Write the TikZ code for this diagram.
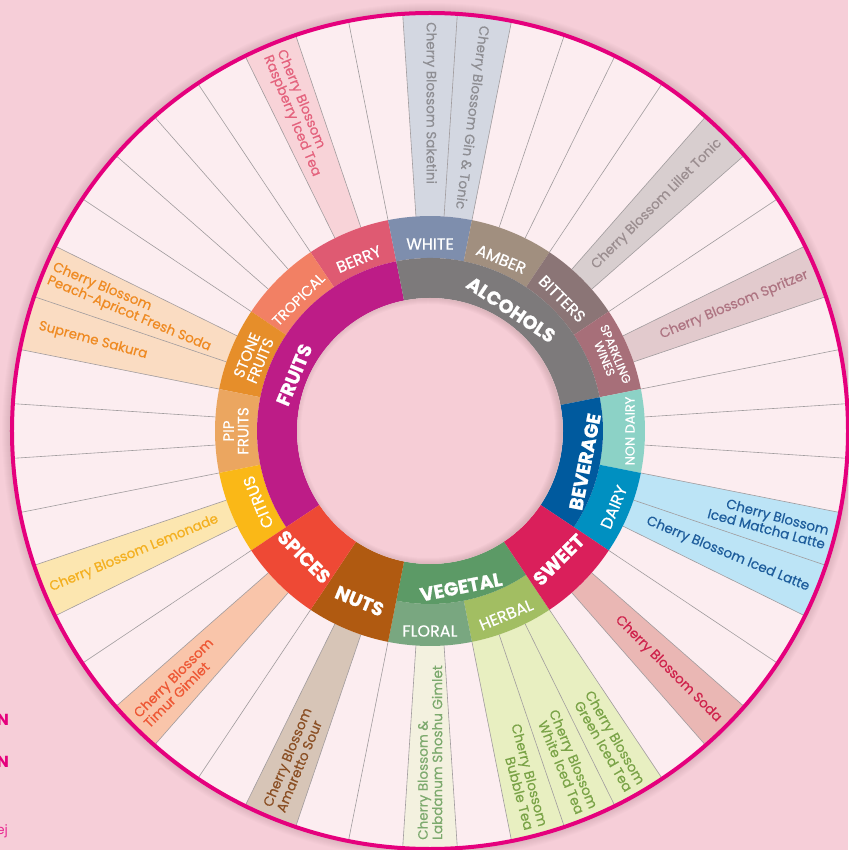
\documentclass[tikz,border=0pt]{standalone}
\usepackage{fontspec}
\setmainfont{Poppins}
\newfontfamily\drinkfont{Poppins}[FakeBold=0.5]
\newfontfamily\subfont{Poppins}[FakeBold=0.6]
\newfontfamily\heavyfont{Poppins}[FakeBold=0.9]
\usepackage{xcolor}
\definecolor{PageBg}{HTML}{F6CED8}
\definecolor{RingBg}{HTML}{FCEDF0}
\definecolor{HoleCol}{HTML}{F6CDD6}
\definecolor{RimCol}{HTML}{E5007D}
\definecolor{SpokeCol}{HTML}{A19C9E}
% main families
\definecolor{FruitsCol}{HTML}{BD1C87}
\definecolor{AlcoholsCol}{HTML}{7D7A7B}
\definecolor{BeverageCol}{HTML}{005A9E}
\definecolor{SweetCol}{HTML}{DA1F5B}
\definecolor{VegetalCol}{HTML}{5C9A66}
\definecolor{NutsCol}{HTML}{B05A11}
\definecolor{SpicesCol}{HTML}{EE4935}
% sub families
\definecolor{BerryCol}{HTML}{DF5A72}
\definecolor{TropicalCol}{HTML}{F28064}
\definecolor{StoneCol}{HTML}{E68E2A}
\definecolor{PipCol}{HTML}{EBA660}
\definecolor{CitrusCol}{HTML}{FAB817}
\definecolor{WhiteCol}{HTML}{7E8EAD}
\definecolor{AmberCol}{HTML}{A18F7F}
\definecolor{BittersCol}{HTML}{8B7576}
\definecolor{SparklingCol}{HTML}{A76F79}
\definecolor{NonDairyCol}{HTML}{8CD2C6}
\definecolor{DairyCol}{HTML}{0090C1}
\definecolor{FloralCol}{HTML}{79A780}
\definecolor{HerbalCol}{HTML}{A2BE62}
% drinks
\definecolor{RaspBg}{HTML}{F8D3D8}\definecolor{RaspTx}{HTML}{E4627D}
\definecolor{GinBg}{HTML}{D3D7E1}\definecolor{GinTx}{HTML}{8E8E93}
\definecolor{LilletBg}{HTML}{D8CECF}\definecolor{LilletTx}{HTML}{9B8E90}
\definecolor{SpritzBg}{HTML}{E2CACD}\definecolor{SpritzTx}{HTML}{AE7482}
\definecolor{LatteBg}{HTML}{BCE4F6}\definecolor{LatteTx}{HTML}{1E5D9C}
\definecolor{SodaBg}{HTML}{EAB7B4}\definecolor{SodaTx}{HTML}{CF234C}
\definecolor{TeaBg}{HTML}{E8EFC1}\definecolor{TeaTx}{HTML}{7AA347}
\definecolor{ShoshuBg}{HTML}{F3F1DF}\definecolor{ShoshuTx}{HTML}{7DAA6E}
\definecolor{AmarBg}{HTML}{D7C5B7}\definecolor{AmarTx}{HTML}{8B4F24}
\definecolor{TimurBg}{HTML}{F9C5AA}\definecolor{TimurTx}{HTML}{EE5734}
\definecolor{LemonBg}{HTML}{FCE6B0}\definecolor{LemonTx}{HTML}{F4B020}
\definecolor{PeachBg}{HTML}{FADCC2}\definecolor{PeachTx}{HTML}{EF8A22}
\tikzstyle{Spoke}=[draw=SpokeCol,line width=0.6pt]
\tikzstyle{Rim}=[draw=RimCol,line width=4pt]
\tikzstyle{MainLabel}=[text=white,inner sep=0pt,font=\fontsize{19}{19}\heavyfont\bfseries]
\tikzstyle{SubLabel}=[text=white,inner sep=0pt,align=center,font=\fontsize{16}{15}\subfont]
\tikzstyle{SubSmall}=[text=white,inner sep=0pt,align=center,font=\fontsize{12}{12}\subfont]
\tikzstyle{Drink}=[inner sep=0pt,font=\fontsize{13.5}{14.5}\drinkfont]
\tikzstyle{DrinkIn}=[Drink,anchor=west,align=left]
\tikzstyle{DrinkOut}=[Drink,anchor=east,align=right]
\tikzstyle{EdgeMark}=[text=RimCol,inner sep=0pt,anchor=east,font=\fontsize{16}{16}\selectfont\bfseries]
% ring piece: colour, start angle, end angle, inner radius, outer radius
\newcommand{\RingPart}[5]{\fill[#1] (#2:#4) arc[start angle=#2,end angle=#3,radius=#4]
  -- (#3:#5) arc[start angle=#3,end angle=#2,radius=#5] -- cycle;}

\begin{document}
\begin{tikzpicture}
    \useasboundingbox (-430pt,-419pt) rectangle (418pt,431pt);
    \fill[PageBg] (-430pt,-419pt) rectangle (418pt,431pt);
    \foreach \w in {2,4,...,16}
        \draw[black,opacity=0.012,line width=\w pt] (0,0) circle (420pt);
    \fill[RingBg] (0,0) circle (418pt);
    % drink wedges
    \RingPart{RaspBg}{108.75}{116.25}{215pt}{418pt}
    \RingPart{GinBg}{78.75}{93.75}{215pt}{418pt}
    \RingPart{LilletBg}{41.25}{48.75}{215pt}{418pt}
    \RingPart{SpritzBg}{18.75}{26.25}{215pt}{418pt}
    \RingPart{LatteBg}{-26.25}{-11.25}{215pt}{418pt}
    \RingPart{SodaBg}{-48.75}{-41.25}{215pt}{418pt}
    \RingPart{TeaBg}{-78.75}{-56.25}{215pt}{418pt}
    \RingPart{ShoshuBg}{-93.75}{-86.25}{215pt}{418pt}
    \RingPart{AmarBg}{243.75}{251.25}{215pt}{418pt}
    \RingPart{TimurBg}{221.25}{228.75}{215pt}{418pt}
    \RingPart{LemonBg}{198.75}{206.25}{215pt}{418pt}
    \RingPart{PeachBg}{153.75}{168.75}{215pt}{418pt}
    \foreach \k in {0,...,47}
        \draw[Spoke] ({3.75+7.5*\k}:215pt) -- ({3.75+7.5*\k}:417pt);
    \draw[Rim] (0,0) circle (418pt);
    % sub families
    \RingPart{BerryCol}{101.25}{123.75}{173pt}{215pt}
    \RingPart{TropicalCol}{123.75}{146.25}{173pt}{215pt}
    \RingPart{StoneCol}{146.25}{168.75}{173pt}{215pt}
    \RingPart{PipCol}{168.75}{191.25}{173pt}{215pt}
    \RingPart{CitrusCol}{191.25}{213.75}{173pt}{215pt}
    \RingPart{WhiteCol}{78.75}{101.25}{173pt}{215pt}
    \RingPart{AmberCol}{56.25}{78.75}{173pt}{215pt}
    \RingPart{BittersCol}{33.75}{56.25}{173pt}{215pt}
    \RingPart{SparklingCol}{11.25}{33.75}{173pt}{215pt}
    \RingPart{NonDairyCol}{-11.25}{11.25}{173pt}{215pt}
    \RingPart{DairyCol}{-33.75}{-11.25}{173pt}{215pt}
    \RingPart{HerbalCol}{-78.75}{-56.25}{173pt}{215pt}
    \RingPart{FloralCol}{-101.25}{-78.75}{173pt}{215pt}
    % main families
    \RingPart{FruitsCol}{101.25}{213.75}{133pt}{173pt}
    \RingPart{AlcoholsCol}{11.25}{101.25}{133pt}{173pt}
    \RingPart{BeverageCol}{-33.75}{11.25}{133pt}{173pt}
    \RingPart{VegetalCol}{-101.25}{-56.25}{133pt}{173pt}
    \RingPart{SweetCol}{-56.25}{-33.75}{133pt}{215pt}
    \RingPart{NutsCol}{236.25}{258.75}{133pt}{215pt}
    \RingPart{SpicesCol}{213.75}{236.25}{133pt}{215pt}
    % hole
    \fill[HoleCol] (0,0) circle (133pt);
    \begin{scope}
        \clip (0,0) circle (133pt);
        \foreach \w in {2,4,...,14}
            \draw[black,opacity=0.014,line width=\w pt] (-2pt,0) circle (134pt);
    \end{scope}
    % main labels
    \node[MainLabel,rotate=67.5](fruits)at(157.5:147pt){FRUITS};
    \node[MainLabel,rotate=-33.75](alcohols)at(56.25:146pt){ALCOHOLS};
    \node[MainLabel,rotate=78.75](beverage)at(-11.25:158pt){BEVERAGE};
    \node[MainLabel,rotate=11.25](vegetal)at(-78.75:159pt){VEGETAL};
    \node[MainLabel,rotate=45](sweet)at(-45:182pt){SWEET};
    \node[MainLabel,rotate=-22.5](nuts)at(247.5:184pt){NUTS};
    \node[MainLabel,rotate=-45](spices)at(225:178pt){SPICES};
    % sub labels
    \node[SubLabel,rotate=22.5](berry)at(112.5:186pt){BERRY};
    \node[SubLabel,rotate=45,font=\fontsize{14.5}{14.5}\subfont](tropical)at(135:186pt){TROPICAL};
    \node[SubLabel,rotate=67.5,font=\fontsize{15}{14.5}\subfont](stone)at(157.5:191pt){STONE\\FRUITS};
    \node[SubLabel,rotate=90,font=\fontsize{15}{14.5}\subfont](pip)at(180:194pt){PIP\\FRUITS};
    \node[SubLabel,rotate=112.5](citrus)at(202.5:186pt){CITRUS};
    \node[SubLabel,rotate=0](white)at(90:187pt){WHITE};
    \node[SubLabel,rotate=-22.5](amber)at(67.5:186pt){AMBER};
    \node[SubLabel,rotate=-45](bitters)at(45:187pt){BITTERS};
    \node[SubSmall,rotate=-67.5](sparkling)at(22.5:195pt){SPARKLING\\WINES};
    \node[SubSmall,rotate=90,font=\fontsize{13}{13}\subfont](nondairy)at(0:200pt){NON DAIRY};
    \node[SubLabel,rotate=67.5](dairy)at(-22.5:199pt){DAIRY};
    \node[SubLabel,rotate=22.5](herbal)at(-67.5:199pt){HERBAL};
    \node[SubLabel,rotate=0](floral)at(-90:200pt){FLORAL};
    % drinks
    \node[DrinkIn,text=RaspTx,rotate=-67.5](raspberry)at(112.5:409pt){Cherry Blossom\\Raspberry Iced Tea};
    \node[DrinkIn,text=GinTx,rotate=-90](saketini)at(90:409pt){Cherry Blossom Saketini};
    \node[DrinkIn,text=GinTx,rotate=-97.5](gintonic)at(82.5:409pt){Cherry Blossom Gin \& Tonic};
    \node[DrinkOut,text=LilletTx,rotate=45](lillet)at(45:410pt){Cherry Blossom Lillet Tonic};
    \node[DrinkOut,text=SpritzTx,rotate=22.5](spritzer)at(22.5:409pt){Cherry Blossom Spritzer};
    \node[DrinkOut,text=LatteTx,rotate=-15](matcha)at(-15:411pt){Cherry Blossom\\Iced Matcha Latte};
    \node[DrinkOut,text=LatteTx,rotate=-22.5](icedlatte)at(-22.5:410pt){Cherry Blossom Iced Latte};
    \node[DrinkOut,text=SodaTx,rotate=-45](soda)at(-45:409pt){Cherry Blossom Soda};
    \node[DrinkOut,text=TeaTx,rotate=-60](greentea)at(-60:411pt){Cherry Blossom\\Green Iced Tea};
    \node[DrinkOut,text=TeaTx,rotate=-67.5](whitetea)at(-67.5:411pt){Cherry Blossom\\White Iced Tea};
    \node[DrinkOut,text=TeaTx,rotate=-75](bubbletea)at(-75:411pt){Cherry Blossom\\Bubble Tea};
    \node[DrinkIn,text=ShoshuTx,rotate=90](shoshu)at(270:409pt){Cherry Blossom \&\\Labdanum Shoshu Gimlet};
    \node[DrinkIn,text=AmarTx,rotate=67.5](amaretto)at(247.5:409pt){Cherry Blossom\\Amaretto Sour};
    \node[DrinkIn,text=TimurTx,rotate=45](timur)at(225:409pt){Cherry Blossom\\Timur Gimlet};
    \node[DrinkIn,text=LemonTx,rotate=22.5](lemonade)at(202.5:411pt){Cherry Blossom Lemonade};
    \node[DrinkIn,text=PeachTx,rotate=-22.5](peach)at(157.5:411pt){Cherry Blossom\\Peach-Apricot Fresh Soda};
    \node[DrinkIn,text=PeachTx,rotate=-15](sakura)at(165:405pt){Supreme Sakura};
    % cut-off notes at the left edge
    \node[EdgeMark](markA)at(-421pt,-289pt){N};
    \node[EdgeMark](markB)at(-421pt,-331pt){N};
    \node[EdgeMark,font=\fontsize{13}{13}\selectfont,text=RimCol!85](markC)at(-422pt,-400pt){ej};
\end{tikzpicture}
\end{document}
